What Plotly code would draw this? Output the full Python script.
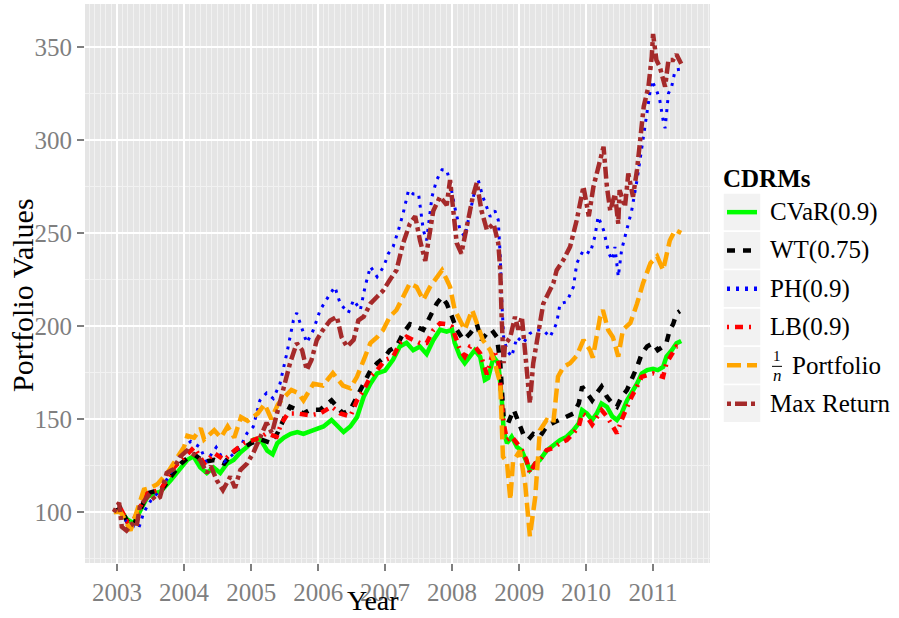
import pandas as pd
import plotly.graph_objects as go

# ---------------- data (decimal year, portfolio value) ----------------
cvar = [(2002.95, 100), (2003.05, 101), (2003.15, 96), (2003.25, 94), (2003.32, 99), (2003.45, 108),
        (2003.55, 110), (2003.65, 111), (2003.8, 117), (2003.95, 124), (2004.05, 128), (2004.14, 130),
        (2004.24, 124), (2004.34, 121), (2004.44, 124), (2004.54, 121), (2004.64, 126), (2004.74, 128),
        (2004.84, 132), (2004.94, 135), (2005.04, 139), (2005.14, 139), (2005.24, 133), (2005.32, 131),
        (2005.39, 137), (2005.49, 140), (2005.59, 142), (2005.69, 143), (2005.78, 142), (2005.93, 144),
        (2006.08, 146), (2006.2, 149.5), (2006.3, 146), (2006.38, 143), (2006.48, 146), (2006.58, 151),
        (2006.68, 162), (2006.78, 169), (2006.88, 174.5), (2007.0, 176), (2007.12, 182), (2007.22, 189),
        (2007.32, 191), (2007.42, 187), (2007.52, 189), (2007.62, 185), (2007.72, 192.5), (2007.82, 198),
        (2007.92, 197), (2008.0, 198), (2008.04, 191), (2008.12, 183.5), (2008.19, 180), (2008.27, 183.5),
        (2008.34, 187), (2008.42, 183.5), (2008.49, 171), (2008.54, 172), (2008.62, 183.5), (2008.69, 180),
        (2008.74, 162), (2008.77, 144), (2008.82, 137), (2008.89, 140.5), (2008.97, 135), (2009.04, 133),
        (2009.11, 126), (2009.16, 122.6), (2009.24, 126), (2009.31, 128), (2009.41, 133), (2009.51, 136),
        (2009.61, 138.7), (2009.71, 140.5), (2009.81, 144), (2009.89, 147.7), (2009.94, 154.8), (2010.01, 153),
        (2010.09, 149.5), (2010.16, 153), (2010.23, 158.4), (2010.31, 156.6), (2010.39, 151.4), (2010.46, 149.5),
        (2010.53, 153), (2010.61, 160), (2010.68, 164), (2010.76, 169), (2010.83, 174.5), (2010.91, 176.3),
        (2011.0, 177), (2011.07, 176.3), (2011.15, 178), (2011.2, 183.5), (2011.28, 187), (2011.35, 190.7),
        (2011.42, 192)]

wt = [(2002.95, 100), (2003.05, 102), (2003.15, 95), (2003.25, 93), (2003.32, 99), (2003.45, 110),
      (2003.55, 111), (2003.65, 111), (2003.8, 119), (2003.95, 126), (2004.05, 129), (2004.15, 131),
      (2004.3, 127), (2004.45, 128), (2004.6, 126), (2004.7, 131), (2004.8, 134), (2004.9, 135),
      (2005.0, 137), (2005.15, 139), (2005.3, 137), (2005.4, 143), (2005.5, 151), (2005.58, 156.6),
      (2005.68, 155), (2005.78, 153), (2005.88, 155), (2006.03, 155), (2006.2, 160), (2006.28, 156.6),
      (2006.37, 153), (2006.48, 155), (2006.58, 162), (2006.68, 169), (2006.78, 176), (2006.88, 180),
      (2007.0, 183.5), (2007.07, 187), (2007.17, 189), (2007.27, 196), (2007.37, 201), (2007.47, 199.6),
      (2007.57, 198), (2007.67, 205), (2007.77, 212), (2007.85, 215.7), (2007.92, 212), (2008.0, 205),
      (2008.07, 198), (2008.17, 192.5), (2008.27, 196), (2008.37, 201), (2008.44, 192.5), (2008.52, 196),
      (2008.59, 198), (2008.67, 194), (2008.72, 180), (2008.77, 151), (2008.84, 148), (2008.92, 155),
      (2008.99, 148), (2009.06, 142), (2009.14, 139), (2009.21, 142), (2009.31, 140.5), (2009.41, 146),
      (2009.51, 148), (2009.61, 149.5), (2009.71, 151), (2009.81, 153), (2009.89, 158.4), (2009.94, 167.4),
      (2010.01, 164), (2010.09, 160), (2010.16, 164), (2010.23, 167.4), (2010.31, 162), (2010.39, 158.4),
      (2010.46, 156.6), (2010.53, 162), (2010.61, 165.6), (2010.68, 171), (2010.76, 178), (2010.83, 185),
      (2010.91, 189), (2011.0, 190.8), (2011.07, 187), (2011.15, 189), (2011.2, 191), (2011.25, 198),
      (2011.3, 201), (2011.35, 206.8), (2011.4, 208)]

ph = [(2002.95, 100), (2003.05, 101), (2003.15, 94), (2003.25, 92), (2003.32, 91), (2003.4, 100),
      (2003.5, 106), (2003.65, 112), (2003.85, 124), (2004.0, 135), (2004.1, 138), (2004.24, 134.8),
      (2004.33, 127), (2004.48, 134.8), (2004.6, 127), (2004.7, 130), (2004.84, 134.8), (2004.94, 142.4),
      (2005.03, 145.8), (2005.13, 160), (2005.23, 164), (2005.33, 161), (2005.43, 169), (2005.53, 185),
      (2005.63, 203), (2005.68, 207), (2005.76, 198), (2005.83, 191), (2005.93, 198), (2006.03, 208.6),
      (2006.15, 215.7), (2006.25, 221), (2006.33, 212), (2006.45, 207), (2006.53, 214), (2006.63, 208.6),
      (2006.7, 221), (2006.78, 232), (2006.88, 226.5), (2006.98, 232), (2007.05, 239), (2007.12, 242.6),
      (2007.2, 251.6), (2007.27, 260.6), (2007.35, 273), (2007.42, 271), (2007.5, 271), (2007.57, 251.6),
      (2007.62, 246), (2007.7, 269.5), (2007.77, 278.5), (2007.85, 284), (2007.92, 284), (2007.97, 277),
      (2008.04, 264), (2008.12, 251.6), (2008.19, 248), (2008.27, 260.7), (2008.34, 273), (2008.39, 278.5),
      (2008.46, 269.5), (2008.57, 258.8), (2008.64, 262), (2008.69, 257), (2008.72, 237), (2008.74, 215.7),
      (2008.77, 194), (2008.82, 187), (2008.89, 183.5), (2008.97, 194), (2009.06, 190.8), (2009.16, 196),
      (2009.26, 197.8), (2009.36, 197.8), (2009.46, 194), (2009.56, 201.6), (2009.61, 212), (2009.71, 213),
      (2009.81, 221), (2009.86, 233.7), (2009.96, 240.9), (2010.06, 239), (2010.13, 248), (2010.18, 258.8),
      (2010.26, 251.6), (2010.34, 239), (2010.39, 235.5), (2010.43, 242.5), (2010.48, 226.5), (2010.53, 240.9),
      (2010.61, 253), (2010.68, 262), (2010.76, 278.5), (2010.81, 291), (2010.86, 301), (2010.91, 316),
      (2010.98, 332), (2011.05, 327), (2011.1, 321.5), (2011.15, 310.7), (2011.18, 306.3), (2011.23, 325),
      (2011.28, 329), (2011.33, 337.6), (2011.4, 338)]

lb = [(2002.95, 100), (2003.05, 102), (2003.15, 95), (2003.25, 96), (2003.32, 101), (2003.45, 110),
      (2003.55, 111), (2003.65, 112), (2003.85, 124), (2004.0, 129.7), (2004.15, 134.8), (2004.3, 126),
      (2004.45, 131.7), (2004.6, 128), (2004.75, 133), (2004.9, 137), (2005.03, 138.7), (2005.13, 140),
      (2005.23, 142.3), (2005.38, 140.5), (2005.45, 147.7), (2005.55, 153), (2005.68, 153), (2005.88, 152),
      (2006.03, 153), (2006.2, 156.6), (2006.33, 153), (2006.48, 151.4), (2006.58, 160), (2006.68, 165.6),
      (2006.78, 172.7), (2006.88, 176.3), (2007.0, 181.7), (2007.12, 183.5), (2007.22, 190.8), (2007.32, 194.2),
      (2007.42, 192.5), (2007.52, 190.8), (2007.62, 190.8), (2007.72, 197.8), (2007.82, 201.4), (2007.92, 201),
      (2008.0, 199.6), (2008.05, 194), (2008.12, 187), (2008.19, 183.5), (2008.27, 189), (2008.34, 189),
      (2008.42, 185.3), (2008.52, 174), (2008.62, 187), (2008.69, 181.7), (2008.74, 164), (2008.77, 147.7),
      (2008.82, 138.7), (2008.89, 140.5), (2008.97, 137), (2009.04, 133.3), (2009.11, 128), (2009.16, 120.8),
      (2009.24, 126.2), (2009.31, 128), (2009.41, 133.3), (2009.51, 134.5), (2009.61, 137), (2009.71, 138.7),
      (2009.81, 142.3), (2009.89, 146), (2009.94, 153), (2010.01, 151.4), (2010.09, 147), (2010.16, 151.4),
      (2010.23, 154.8), (2010.31, 151.4), (2010.39, 146), (2010.46, 142.3), (2010.53, 149.5), (2010.61, 156.6),
      (2010.68, 162), (2010.76, 167.4), (2010.83, 172.7), (2010.91, 173.6), (2011.0, 174.5), (2011.07, 173.6),
      (2011.15, 172.7), (2011.2, 180), (2011.28, 185.3), (2011.35, 189), (2011.42, 189)]

one_n = [(2002.95, 100), (2003.05, 100), (2003.1, 97), (2003.2, 90), (2003.3, 101), (2003.4, 112),
         (2003.5, 113), (2003.6, 115), (2003.75, 121), (2003.9, 130), (2004.0, 135), (2004.05, 141),
         (2004.15, 140), (2004.25, 145), (2004.3, 139), (2004.45, 144), (2004.55, 140), (2004.65, 146),
         (2004.75, 140), (2004.85, 151), (2004.95, 149), (2005.1, 153), (2005.2, 158), (2005.3, 150),
         (2005.4, 158), (2005.5, 162), (2005.6, 165.6), (2005.7, 164), (2005.78, 160), (2005.93, 169),
         (2006.07, 168), (2006.22, 174.7), (2006.37, 168), (2006.48, 166.5), (2006.58, 172.7), (2006.68, 181.7),
         (2006.78, 190.8), (2006.88, 194), (2006.97, 197.8), (2007.07, 205), (2007.17, 208.6), (2007.27, 215.7),
         (2007.37, 223), (2007.47, 221), (2007.57, 214), (2007.67, 221), (2007.77, 226.5), (2007.85, 230),
         (2007.92, 225), (2007.97, 221), (2008.04, 208.6), (2008.12, 203), (2008.19, 198), (2008.3, 208.6),
         (2008.39, 199.6), (2008.46, 192.5), (2008.57, 187), (2008.64, 180), (2008.72, 169), (2008.74, 155),
         (2008.76, 129.7), (2008.82, 127), (2008.87, 106.5), (2008.91, 127), (2009.01, 133), (2009.09, 115),
         (2009.16, 87), (2009.24, 108), (2009.31, 144), (2009.41, 149.5), (2009.51, 148), (2009.58, 172.7),
         (2009.66, 178), (2009.76, 180), (2009.86, 184), (2009.96, 192.5), (2010.06, 187), (2010.1, 183),
         (2010.21, 205), (2010.25, 208.6), (2010.33, 197.8), (2010.4, 194), (2010.48, 183.5), (2010.55, 198),
         (2010.66, 201.6), (2010.76, 212), (2010.85, 223), (2010.96, 233.8), (2011.06, 237.5), (2011.15, 230),
         (2011.2, 239), (2011.25, 246), (2011.33, 251.6), (2011.42, 250)]

max_ret = [(2002.95, 100), (2003.0, 103), (2003.03, 105), (2003.07, 92), (2003.14, 90), (2003.22, 93.5),
           (2003.29, 92), (2003.34, 103), (2003.42, 106.5), (2003.49, 110), (2003.57, 106.5), (2003.64, 108),
           (2003.74, 121), (2003.84, 123), (2003.94, 129.7), (2004.04, 133), (2004.14, 131), (2004.24, 128),
           (2004.34, 121), (2004.4, 124.7), (2004.49, 117), (2004.58, 111.8), (2004.69, 119), (2004.76, 113),
           (2004.84, 122.6), (2004.94, 126), (2005.03, 131.7), (2005.13, 140.5), (2005.23, 148), (2005.31, 142.5),
           (2005.4, 154.8), (2005.48, 165.6), (2005.58, 180), (2005.68, 190.8), (2005.76, 187), (2005.83, 176.3),
           (2005.9, 181.7), (2005.98, 192.5), (2006.07, 197.8), (2006.18, 203), (2006.28, 205), (2006.35, 194),
           (2006.43, 188.9), (2006.53, 192.5), (2006.6, 203), (2006.68, 205), (2006.78, 212), (2006.88, 215.7),
           (2006.97, 219), (2007.07, 224.7), (2007.17, 230), (2007.27, 244.6), (2007.37, 255), (2007.45, 259),
           (2007.52, 246.2), (2007.6, 235), (2007.64, 244), (2007.72, 262), (2007.82, 269.5), (2007.92, 265),
           (2007.97, 278.5), (2008.02, 260.8), (2008.07, 244.6), (2008.14, 239), (2008.22, 253), (2008.31, 269.5),
           (2008.37, 277), (2008.44, 262), (2008.52, 251.6), (2008.62, 255), (2008.69, 244.6), (2008.72, 230),
           (2008.74, 205), (2008.77, 180), (2008.79, 190), (2008.87, 194), (2008.94, 205), (2008.99, 198),
           (2009.04, 205), (2009.11, 180), (2009.16, 158.4), (2009.21, 180), (2009.29, 197.8), (2009.36, 212),
           (2009.41, 215.7), (2009.51, 223), (2009.56, 230), (2009.66, 235.5), (2009.76, 242.6), (2009.86, 257),
           (2009.96, 275), (2010.04, 259), (2010.11, 275), (2010.18, 285.6), (2010.26, 296.4), (2010.31, 275),
           (2010.36, 262), (2010.43, 271), (2010.48, 255), (2010.5, 273), (2010.58, 264), (2010.63, 282),
           (2010.7, 269.5), (2010.76, 284), (2010.81, 304), (2010.86, 318), (2010.93, 328.6), (2010.98, 344.7),
           (2011.0, 357), (2011.05, 343), (2011.1, 339.4), (2011.18, 328.6), (2011.23, 343), (2011.3, 343),
           (2011.35, 346), (2011.42, 341)]

series_names = ["CVaR(0.9)", "WT(0.75)", "PH(0.9)", "LB(0.9)", "Portfolio", "Max Return"]
x_ticks = [2003, 2004, 2005, 2006, 2007, 2008, 2009, 2010, 2011]
y_ticks = [100, 150, 200, 250, 300, 350]

# ---------------- styling ----------------
FONT = "Liberation Serif"
GREY_TXT = "#7F7F7F"
styles = [
    dict(color="#00FF00", width=4.5, dash="solid"),
    dict(color="#000000", width=4.5, dash="8px,8px"),
    dict(color="#0000FF", width=3, dash="3px,6px"),
    dict(color="#FF0000", width=4.5, dash="2px,6px,8px,6px"),
    dict(color="#FFA500", width=4.5, dash="14px,6px"),
    dict(color="#A52A2A", width=4.5, dash="4px,4px,12px,4px"),
]


def to_date(t):
    y = int(t)
    return pd.Timestamp(year=y, month=1, day=1) + pd.Timedelta(days=(t - y) * 365.25)


fig = go.Figure()
for name, data, st in zip(series_names, [cvar, wt, ph, lb, one_n, max_ret], styles):
    fig.add_trace(go.Scatter(
        x=[to_date(t) for t, _ in data], y=[v for _, v in data],
        mode="lines", name=name, showlegend=False,
        line=dict(color=st["color"], width=st["width"], dash=st["dash"]),
    ))

# plot area in pixels
L, R, T, B = 85, 710, 4, 563
W, H = 899, 618


def px(x):
    return (x - L) / (R - L)


def py(y):
    return (B - y) / (B - T)


fig.update_layout(
    width=W, height=H, autosize=False,
    margin=dict(l=L, r=W - R, t=T, b=H - B),
    paper_bgcolor="white", plot_bgcolor="#E5E5E5",
    font=dict(family=FONT, size=24, color="black"),
    showlegend=False,
)
fig.update_xaxes(
    type="date",
    range=[to_date(2002.52), to_date(2011.85)],
    tickvals=[pd.Timestamp(year=y, month=1, day=1) for y in x_ticks],
    ticktext=[str(y) for y in x_ticks],
    tickfont=dict(family=FONT, size=25, color=GREY_TXT),
    ticks="outside", ticklen=7, tickwidth=1.5, tickcolor=GREY_TXT,
    showgrid=True, gridcolor="white", gridwidth=1.6,
    minor=dict(dtick="M1", tick0="2003-01-01", showgrid=True, gridcolor="#F2F2F2", gridwidth=0.8),
    zeroline=False, showline=False,
)
fig.update_yaxes(
    range=[72.6, 373.1],
    tickvals=y_ticks, ticktext=[str(v) for v in y_ticks],
    tickfont=dict(family=FONT, size=25, color=GREY_TXT),
    ticks="outside", ticklen=7, tickwidth=1.5, tickcolor=GREY_TXT,
    showgrid=True, gridcolor="white", gridwidth=1.6,
    minor=dict(dtick=25, tick0=75, showgrid=True, gridcolor="#F2F2F2", gridwidth=0.8),
    zeroline=False, showline=False,
)


def label(text, x, y, size=25, xanchor="center", yanchor="middle", angle=0):
    return dict(text=text, x=px(x), y=py(y), xref="paper", yref="paper",
                xanchor=xanchor, yanchor=yanchor, textangle=angle, showarrow=False,
                font=dict(family=FONT, size=size, color="black"))


ann = [label("Year", 373, 618, size=28, yanchor="bottom"),
       label("Portfolio Values", 22, 295, size=30, angle=-90)]

# manual legend (ggplot style)
shapes = []
ann.append(label("<b>CDRMs</b>", 721, 178, size=25, xanchor="left"))
row_h = 38.3
for i, (name, st) in enumerate(zip(series_names, styles)):
    top = 193 + i * row_h
    cy = top + row_h / 2
    shapes.append(dict(type="rect", xref="paper", yref="paper",
                       x0=px(723), x1=px(761), y0=py(top), y1=py(top + row_h),
                       fillcolor="#F2F2F2", line=dict(color="white", width=1.5), layer="above"))
    shapes.append(dict(type="line", xref="paper", yref="paper",
                       x0=px(727), x1=px(757), y0=py(cy), y1=py(cy),
                       line=dict(color=st["color"], width=4.5, dash=st["dash"]), layer="above"))
    if name == "Portfolio":
        ann.append(label("1", 777, cy - 9, size=15))
        ann.append(label("<i>n</i>", 777, cy + 10, size=17))
        shapes.append(dict(type="line", xref="paper", yref="paper",
                           x0=px(772), x1=px(782), y0=py(cy + 1), y1=py(cy + 1),
                           line=dict(color="black", width=1), layer="above"))
        ann.append(label("Portfolio", 790, cy, xanchor="left"))
    else:
        ann.append(label(name, 768, cy, xanchor="left"))

fig.update_layout(annotations=ann, shapes=shapes)
fig.write_html("out.html", config={"displayModeBar": False},
               post_script="document.body.style.margin='0px';")
